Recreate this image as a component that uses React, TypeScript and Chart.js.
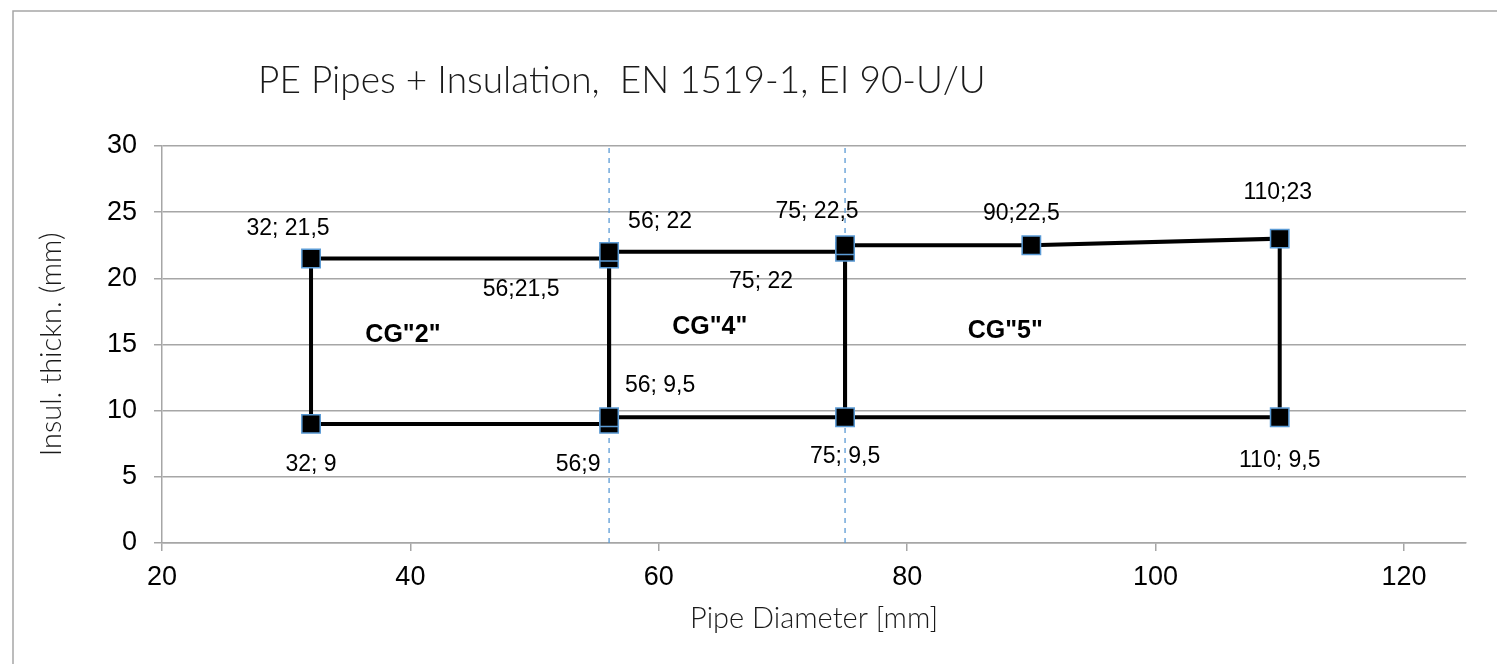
import React, { useEffect, useRef } from "react";
import { Chart, registerables } from "chart.js";

Chart.register(...registerables);

// ---- Data ----
const chartTitle = "PE Pipes + Insulation,  EN 1519-1, EI 90-U/U";
const xAxisTitle = "Pipe Diameter [mm]";
const yAxisTitle = "Insul. thickn. (mm)";

const cg2X = [32, 32, 56, 56, 32];
const cg2Y = [9, 21.5, 21.5, 9, 9];
const cg4X = [56, 56, 75, 75, 56];
const cg4Y = [9.5, 22, 22, 9.5, 9.5];
const cg5X = [75, 75, 90, 110, 110, 75];
const cg5Y = [9.5, 22.5, 22.5, 23, 9.5, 9.5];

const pointX = [32, 32, 56, 56, 56, 56, 75, 75, 75, 90, 110, 110];
const pointY = [9, 21.5, 9, 9.5, 21.5, 22, 9.5, 22, 22.5, 22.5, 9.5, 23];
const pointLabels = [
  "32; 9",
  "32; 21,5",
  "56;9",
  "56; 9,5",
  "56;21,5",
  "56; 22",
  "75; 9,5",
  "75; 22",
  "75; 22,5",
  "90;22,5",
  "110; 9,5",
  "110;23",
];

const dividerX = [56, 75];
const dividerY = [0, 30];

const groupLabels = ['CG"2"', 'CG"4"', 'CG"5"'];
const groupLabelX = [39.4, 64.1, 87.9];
const groupLabelY = [15.7, 16.3, 16.0];

const xMin = 20;
const xMax = 125;
const xStep = 20;
const yMin = 0;
const yMax = 30;
const yStep = 5;

// ---- Styling (label offsets in pixels relative to their point) ----
const labelOffsets: [number, number][] = [
  [0, 41],
  [-23, -30],
  [-31, 41],
  [51, -32],
  [-88, 31],
  [51, -30],
  [0, 39],
  [-84, 30],
  [-28, -34],
  [-10, -32],
  [0, 43],
  [-2, -46],
];

const toPts = (xs: number[], ys: number[]) => xs.map((x, i) => ({ x, y: ys[i] }));

const decorPlugin = {
  id: "decor",
  beforeDraw(chart: any) {
    const ctx = chart.ctx;
    ctx.save();
    ctx.fillStyle = "#ffffff";
    ctx.fillRect(0, 0, chart.width, chart.height);
    ctx.strokeStyle = "#a6a6a6";
    ctx.lineWidth = 1.5;
    ctx.beginPath();
    ctx.moveTo(13, chart.height + 5);
    ctx.lineTo(13, 11);
    ctx.lineTo(chart.width + 5, 11);
    ctx.stroke();
    ctx.fillStyle = "#1a1a1a";
    ctx.font = "300 37px Lato";
    ctx.textAlign = "left";
    ctx.textBaseline = "alphabetic";
    ctx.fillText(chartTitle, 258, 93);
    ctx.restore();
  },
  afterDatasetsDraw(chart: any) {
    const ctx = chart.ctx;
    const meta = chart.getDatasetMeta(0);
    ctx.save();
    ctx.fillStyle = "#000000";
    ctx.textAlign = "center";
    ctx.textBaseline = "middle";
    ctx.font = "23px 'Liberation Sans'";
    meta.data.forEach((el: any, i: number) => {
      const [dx, dy] = labelOffsets[i];
      ctx.fillText(pointLabels[i], el.x + dx, el.y + dy);
    });
    ctx.font = "bold 25px 'Liberation Sans'";
    const xs = chart.scales.x;
    const ys = chart.scales.y;
    groupLabels.forEach((t, i) => {
      ctx.fillText(t, xs.getPixelForValue(groupLabelX[i]), ys.getPixelForValue(groupLabelY[i]));
    });
    ctx.restore();
  },
};

export default function App() {
  const ref = useRef<HTMLCanvasElement>(null);
  useEffect(() => {
    const lineDs = (xs: number[], ys: number[]) => ({
      data: toPts(xs, ys),
      showLine: true,
      borderColor: "#000000",
      borderWidth: 4,
      pointRadius: 0,
      fill: false,
      order: 1,
    });
    const divDs = (x: number) => ({
      data: toPts([x, x], dividerY),
      showLine: true,
      borderColor: "#5b9bd5",
      borderWidth: 1.3,
      borderDash: [5, 5],
      pointRadius: 0,
      fill: false,
      order: 2,
    });
    const chart = new Chart(ref.current!, {
      type: "scatter",
      data: {
        datasets: [
          {
            data: toPts(pointX, pointY),
            showLine: false,
            pointStyle: "rect",
            pointRadius: 13,
            pointBackgroundColor: "#000000",
            pointBorderColor: "#5b9bd5",
            pointBorderWidth: 1.5,
            order: 0,
          } as any,
          lineDs(cg2X, cg2Y),
          lineDs(cg4X, cg4Y),
          lineDs(cg5X, cg5Y),
          ...dividerX.map(divDs),
        ],
      },
      options: {
        animation: false,
        responsive: true,
        maintainAspectRatio: false,
        layout: { padding: { left: 0, right: 31, top: 146, bottom: 0 } },
        plugins: {
          legend: { display: false },
          tooltip: { enabled: false },
          title: { display: false },
        },
        scales: {
          x: {
            type: "linear",
            min: xMin,
            max: xMax,
            afterFit: (s: any) => {
              s.height = 121;
            },
            ticks: {
              stepSize: xStep,
              includeBounds: false,
              color: "#000000",
              font: { family: "'Liberation Sans'", size: 27 },
              padding: 10,
              maxRotation: 0,
            },
            grid: {
              drawOnChartArea: false,
              drawTicks: true,
              tickLength: 8,
              color: "#a6a6a6",
              lineWidth: 1.5,
            },
            border: { display: true, color: "#a6a6a6", width: 1.5 },
            title: {
              display: true,
              text: xAxisTitle,
              color: "#1a1a1a",
              font: { family: "Lato", size: 29, weight: "300" as any },
              padding: { top: 0, bottom: 28 },
            },
          },
          y: {
            type: "linear",
            min: yMin,
            max: yMax,
            afterFit: (s: any) => {
              s.width = 162;
            },
            ticks: {
              stepSize: yStep,
              color: "#000000",
              font: { family: "'Liberation Sans'", size: 27 },
              padding: 17,
            },
            grid: {
              drawOnChartArea: true,
              drawTicks: true,
              tickLength: 8,
              color: "#a6a6a6",
              lineWidth: 1.5,
            },
            border: { display: true, color: "#a6a6a6", width: 1.5 },
            title: {
              display: true,
              text: yAxisTitle,
              color: "#1a1a1a",
              font: { family: "Lato", size: 29, weight: "300" as any },
              padding: { top: 34, bottom: 0 },
            },
          },
        },
      },
      plugins: [decorPlugin],
    });
    return () => chart.destroy();
  }, []);
  return (
    <div
      style={{
        position: "fixed",
        left: 0,
        top: 0,
        width: 1497,
        height: 664,
        background: "#ffffff",
      }}
    >
      <canvas ref={ref} />
    </div>
  );
}
